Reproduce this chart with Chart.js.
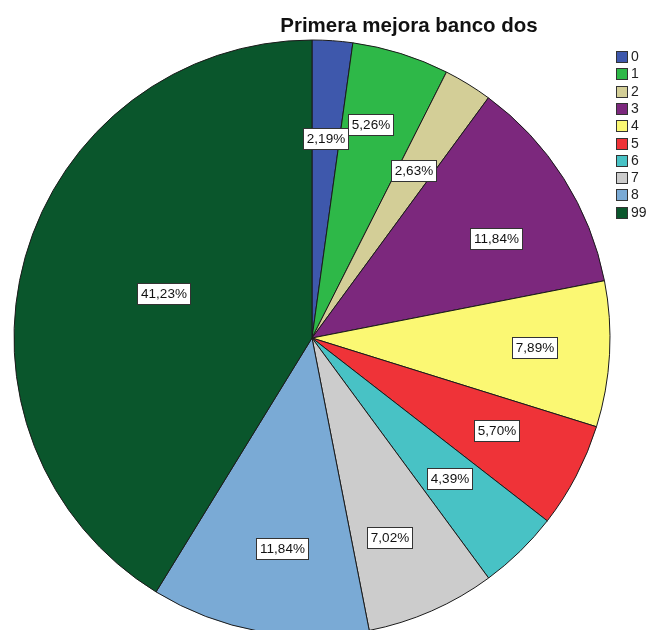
<!DOCTYPE html>
<html>
<head>
<meta charset="utf-8">
<script src="https://cdn.jsdelivr.net/npm/chart.js@4/dist/chart.umd.min.js"></script>
<style>
  html, body { margin: 0; padding: 0; background: #ffffff; overflow: hidden; }
  #chart { display: block; }
</style>
</head>
<body>
<canvas id="chart" width="647" height="630"></canvas>
<script>
// Categories and their share of answers (%)
const categories = ['0', '1', '2', '3', '4', '5', '6', '7', '8', '99'];
const percentages = [2.19, 5.26, 2.63, 11.84, 7.89, 5.70, 4.39, 7.02, 11.84, 41.23];
const sliceColors = ['#3E58AC', '#2EB848', '#D3CE97', '#7C287D', '#FBF873',
                     '#EF3338', '#48C2C5', '#CCCCCC', '#7AAAD5', '#0A562C'];
const chartTitle = 'Primera mejora banco dos';

// Label placement per slice: fraction of radius and angular nudge (degrees)
const labelRadius = [0.672, 0.741, 0.659, 0.703, 0.746, 0.692, 0.660, 0.720, 0.715, 0.521];
const labelTurn   = [-0.2, -2.1, -0.3, 3.9, -0.8, -0.8, -0.3, 2.4, -2.1, 0.7];

const FONT = '"Liberation Sans", Arial, sans-serif';

const fmt = v => v.toFixed(2).replace('.', ',') + '%';

const decorations = {
  id: 'decorations',
  afterDraw(chart) {
    const ctx = chart.ctx;
    const meta = chart.getDatasetMeta(0);
    ctx.save();

    // percentage boxes
    ctx.font = '13.5px ' + FONT;
    ctx.textAlign = 'center';
    ctx.textBaseline = 'middle';
    meta.data.forEach((arc, i) => {
      const p = arc.getProps(['x', 'y', 'startAngle', 'endAngle', 'outerRadius'], true);
      const mid = (p.startAngle + p.endAngle) / 2 + labelTurn[i] * Math.PI / 180;
      const r = p.outerRadius * labelRadius[i];
      const x = p.x + r * Math.cos(mid);
      const y = p.y + r * Math.sin(mid);
      const text = fmt(percentages[i]);
      const w = Math.round(ctx.measureText(text).width + 7);
      const h = 21;
      const bx = Math.round(x - w / 2) + 0.5;
      const by = Math.round(y - h / 2) + 0.5;
      ctx.fillStyle = '#ffffff';
      ctx.fillRect(bx, by, w, h);
      ctx.strokeStyle = '#333333';
      ctx.lineWidth = 1;
      ctx.strokeRect(bx, by, w, h);
      ctx.fillStyle = '#111111';
      ctx.fillText(text, bx + w / 2, by + h / 2 + 0.5);
    });

    // title
    ctx.font = 'bold 20.5px ' + FONT;
    ctx.textAlign = 'center';
    ctx.textBaseline = 'alphabetic';
    ctx.fillStyle = '#111111';
    ctx.fillText(chartTitle, 409, 32);

    // legend
    ctx.font = '14px ' + FONT;
    ctx.textAlign = 'left';
    ctx.textBaseline = 'middle';
    categories.forEach((c, i) => {
      const top = 51 + i * 17.3;
      const by = Math.round(top) + 0.5;
      ctx.fillStyle = sliceColors[i];
      ctx.fillRect(616.5, by, 11, 11);
      ctx.strokeStyle = '#333333';
      ctx.lineWidth = 1;
      ctx.strokeRect(616.5, by, 11, 11);
      ctx.fillStyle = '#222222';
      ctx.fillText(c, 631, by + 6);
    });
    ctx.restore();
  }
};

new Chart(document.getElementById('chart'), {
  type: 'pie',
  data: {
    labels: categories,
    datasets: [{
      data: percentages,
      backgroundColor: sliceColors,
      borderColor: '#1a1a1a',
      borderWidth: 1,
      radius: 298,
      clip: false
    }]
  },
  options: {
    responsive: false,
    animation: false,
    layout: { padding: { top: 46, bottom: 0, left: 0, right: 23 } },
    plugins: {
      legend: { display: false },
      title: { display: false },
      tooltip: { enabled: false }
    }
  },
  plugins: [decorations]
});
</script>
</body>
</html>
